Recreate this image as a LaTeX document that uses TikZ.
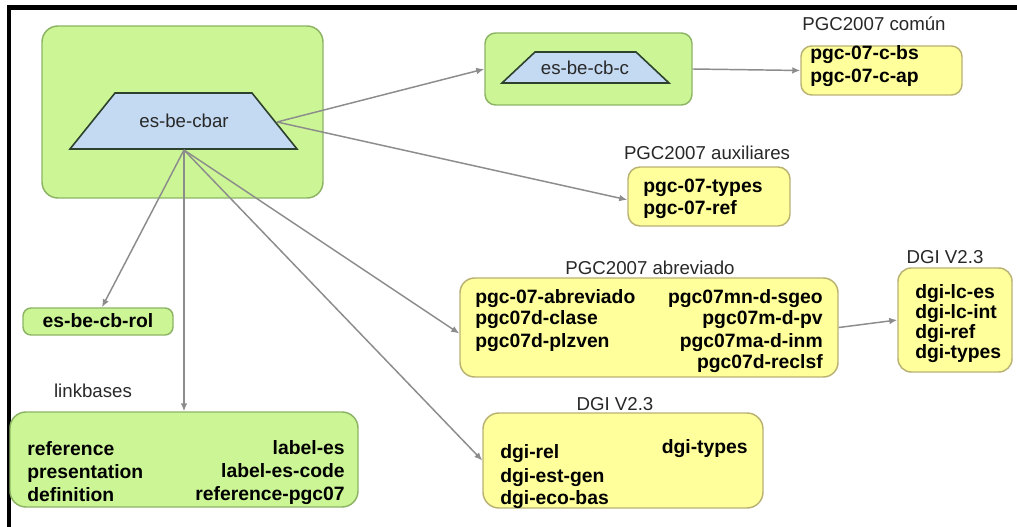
\documentclass[tikz,border=0pt]{standalone}
\usepackage{fontspec}
\setmainfont{Liberation Sans}
\usetikzlibrary{arrows.meta,fit,calc}
\definecolor{gfill}{RGB}{204,246,150}
\definecolor{gline}{RGB}{140,180,100}
\definecolor{yfill}{RGB}{255,255,155}
\definecolor{yline}{RGB}{185,178,115}
\definecolor{tfill}{RGB}{196,218,242}
\definecolor{tline}{RGB}{45,65,45}
\definecolor{agray}{RGB}{140,140,140}
\definecolor{lab}{RGB}{40,40,40}
\begin{document}
\begin{tikzpicture}[x=0.75pt,y=-0.75pt,
  gbox/.style={draw=gline, fill=gfill, line width=1.1pt, rounded corners=#1, inner sep=0pt},
  gbox/.default=8pt,
  ybox/.style={draw=yline, fill=yfill, line width=1.1pt, rounded corners=#1, inner sep=0pt},
  ybox/.default=9pt,
  trap/.style={draw=tline, fill=tfill, line width=1.2pt},
  btxt/.style={font=\fontsize{14.5}{16}\selectfont\bfseries, inner sep=0pt},
  ltxt/.style={font=\fontsize{14}{16}\selectfont, text=lab, inner sep=0pt},
  arr/.style={draw=agray, line width=1.1pt, -{Latex[length=6pt,width=5pt]}}]
\useasboundingbox (0,0) rectangle (1017,527);
\fill[white] (0,0) rectangle (1017,527);
% frame
\draw[line width=3.3pt] (9,527) -- (9,7.5) -- (1017,7.5);

% boxes
\node[gbox=12pt, fit={(42,26) (323,198)}] (cbarbox) {};
\node[gbox=8pt, fit={(485,33) (692,105)}] (cbcbox) {};
\node[ybox=8pt, fit={(801,46) (962,95)}] (comun) {};
\node[ybox=9pt, fit={(628,167) (790,226)}] (aux) {};
\node[ybox=11pt, fit={(460,278) (838,377)}] (abr) {};
\node[ybox=10pt, fit={(898,268) (1012,372)}] (dgir) {};
\node[gbox=6pt, fit={(23,308) (173,335)}] (rol) {};
\node[gbox=12pt, fit={(10,412) (358,507)}] (lb) {};
\node[ybox=12pt, fit={(483,413) (763,508)}] (dgib) {};

% trapezoids
\draw[trap] (70,149) -- (115,93) -- (252,93) -- (297,149) -- cycle;
\node[ltxt] (cbar) at (184,121) {es-be-cbar};
\coordinate (cbarR) at (277,122);
\coordinate (cbarB) at (184,150);
\draw[trap] (502,83) -- (535,52) -- (636,52) -- (669,83) -- cycle;
\node[ltxt] (cbc) at (585,68) {es-be-cb-c};

% labels
\node[ltxt, anchor=base] (lcomun) at (874,31) {PGC2007 común};
\node[ltxt, anchor=base] (laux) at (707,160) {PGC2007 auxiliares};
\node[ltxt, anchor=base] (labr) at (650,275) {PGC2007 abreviado};
\node[ltxt, anchor=base] (ldgir) at (945,263) {DGI V2.3};
\node[ltxt, anchor=base] (ldgib) at (615,410) {DGI V2.3};
\node[ltxt, anchor=base] (llb) at (93,397) {linkbases};

% box texts
\node[btxt, anchor=base west] (c1) at (810,60) {pgc-07-c-bs};
\node[btxt, anchor=base west] (c2) at (810,83) {pgc-07-c-ap};

\node[btxt, anchor=base west] (a1) at (643,193) {pgc-07-types};
\node[btxt, anchor=base west] (a2) at (643,215) {pgc-07-ref};

\node[btxt, anchor=base west] (b1) at (475,303) {pgc-07-abreviado};
\node[btxt, anchor=base west] (b2) at (475,325) {pgc07d-clase};
\node[btxt, anchor=base west] (b3) at (475,347) {pgc07d-plzven};
\node[btxt, anchor=base east] (b4) at (823,303) {pgc07mn-d-sgeo};
\node[btxt, anchor=base east] (b5) at (823,325) {pgc07m-d-pv};
\node[btxt, anchor=base east] (b6) at (823,347) {pgc07ma-d-inm};
\node[btxt, anchor=base east] (b7) at (823,368) {pgc07d-reclsf};

\node[btxt, anchor=base west] (d1) at (915,298) {dgi-lc-es};
\node[btxt, anchor=base west] (d2) at (915,318) {dgi-lc-int};
\node[btxt, anchor=base west] (d3) at (915,338) {dgi-ref};
\node[btxt, anchor=base west] (d4) at (915,358) {dgi-types};

\node[btxt, anchor=base] (r1) at (98,327) {es-be-cb-rol};

\node[btxt, anchor=base west] (l1) at (27,455) {reference};
\node[btxt, anchor=base west] (l2) at (27,478) {presentation};
\node[btxt, anchor=base west] (l3) at (27,501) {definition};
\node[btxt, anchor=base east] (l4) at (345,454) {label-es};
\node[btxt, anchor=base east] (l5) at (345,477) {label-es-code};
\node[btxt, anchor=base east] (l6) at (345,500) {reference-pgc07};

\node[btxt, anchor=base west] (e1) at (500,458) {dgi-rel};
\node[btxt, anchor=base west] (e2) at (500,482) {dgi-est-gen};
\node[btxt, anchor=base west] (e3) at (500,504) {dgi-eco-bas};
\node[btxt, anchor=base east] (e4) at (748,453) {dgi-types};

% connectors
\draw[arr] (cbarR) -- (cbcbox.west);
\draw[arr] (cbarR) -- ([yshift=-2.5pt]aux.west);
\draw[arr] (cbarB) -- ([xshift=3pt]rol.north);
\draw[arr] (cbarB) -- (cbarB |- lb.north);
\draw[arr] (cbarB) -- ([yshift=-4.5pt]abr.west);
\draw[arr] (cbarB) -- (dgib.west);
\draw[arr] (cbcbox.east) -- (comun.west);
\draw[arr] (abr.east) -- (dgir.west);
\end{tikzpicture}
\end{document}
